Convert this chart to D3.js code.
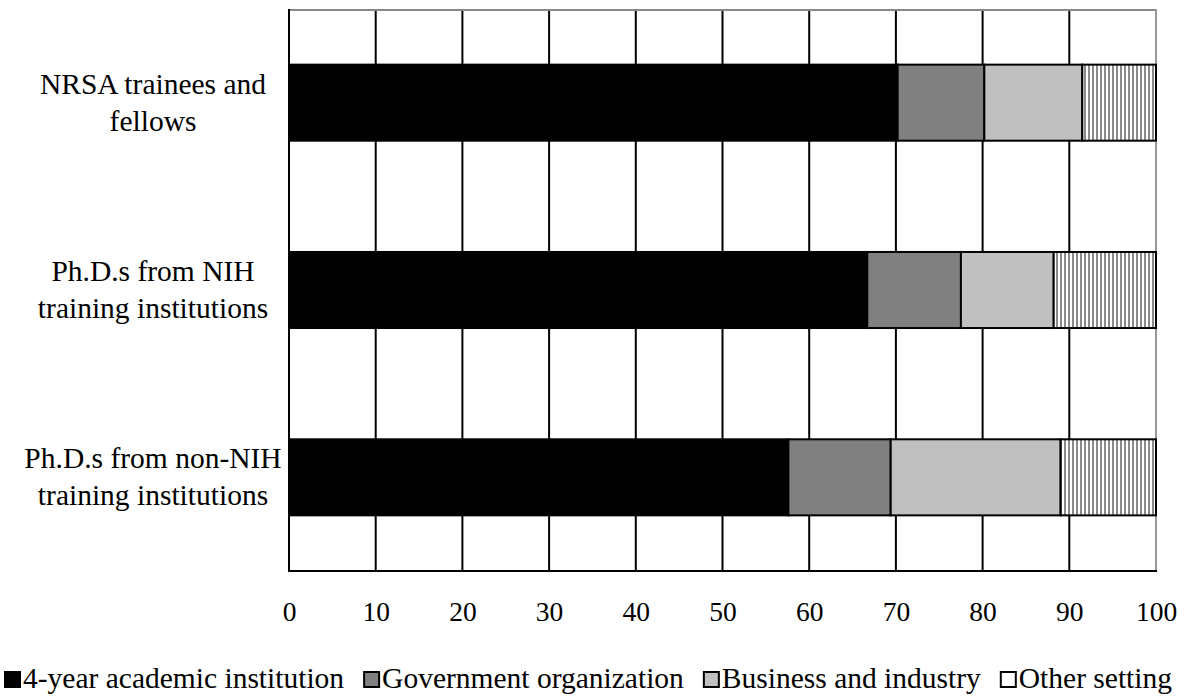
<!DOCTYPE html>
<html><head><meta charset="utf-8">
<script src="https://cdn.jsdelivr.net/npm/d3@7"></script>
<style>body{margin:0;background:#fff}svg{display:block}text{font-family:"Liberation Serif","Times New Roman",serif;fill:#000}</style>
</head><body>
<svg id="c" width="1191" height="698"></svg>
<script>
const categories = ["NRSA trainees and fellows", "Ph.D.s from NIH training institutions", "Ph.D.s from non-NIH training institutions"];
const categoryLines = [["NRSA trainees and", "fellows"], ["Ph.D.s from NIH", "training institutions"], ["Ph.D.s from non-NIH", "training institutions"]];
const seriesNames = ["4-year academic institution", "Government organization", "Business and industry", "Other setting"];
const academic = [70.2, 66.7, 57.6];
const government = [10.0, 10.8, 11.8];
const business = [11.3, 10.7, 19.6];
const other = [8.5, 11.8, 11.0];
const xTicks = [0, 10, 20, 30, 40, 50, 60, 70, 80, 90, 100];

const fills = ["#000000", "#808080", "#c0c0c0", "url(#hatch)"];
const legendFills = ["#000000", "#808080", "#c0c0c0", "#ffffff"];

const svg = d3.select("#c");
const defs = svg.append("defs");
const pat = defs.append("pattern").attr("id", "hatch").attr("patternUnits", "userSpaceOnUse")
  .attr("width", 4).attr("height", 10);
pat.append("rect").attr("width", 4).attr("height", 10).attr("fill", "#fff");
pat.append("rect").attr("x", 0).attr("width", 2).attr("height", 10).attr("fill", "#8a8a8a");

const pL = 289, pR = 1156, pT = 9, pB = 571;
const x = d3.scaleLinear().domain([0, 100]).range([pL, pR]);
const y = d3.scaleBand().domain(categories).range([pT, pB]).paddingInner(0.594).paddingOuter(0.297);

const rows = categories.map((c, i) => ({cat: c, vals: [academic[i], government[i], business[i], other[i]]}));
const stack = d3.stack().keys([0, 1, 2, 3]).value((d, k) => d.vals[k]);
const layers = stack(rows);

// gridlines
svg.append("g").selectAll("line").data(xTicks.filter(t => t > 0 && t < 100)).join("line")
  .attr("x1", d => x(d)).attr("x2", d => x(d)).attr("y1", pT).attr("y2", pB)
  .attr("stroke", "#000").attr("stroke-width", 2);
// top & right frame (gray)
svg.append("line").attr("x1", pL).attr("x2", pR).attr("y1", pT + 1).attr("y2", pT + 1).attr("stroke", "#888").attr("stroke-width", 2);
svg.append("line").attr("x1", pR).attr("x2", pR).attr("y1", pT).attr("y2", pB).attr("stroke", "#999").attr("stroke-width", 2);

// bars
layers.forEach((layer, k) => {
  svg.append("g").selectAll("rect").data(layer).join("rect")
    .attr("x", d => x(d[0])).attr("width", d => x(d[1]) - x(d[0]))
    .attr("y", d => y(d.data.cat)).attr("height", y.bandwidth())
    .attr("fill", fills[k]).attr("stroke", "#000").attr("stroke-width", 2);
});

// axes lines
svg.append("line").attr("x1", pL).attr("x2", pL).attr("y1", pT).attr("y2", pB + 1).attr("stroke", "#000").attr("stroke-width", 2);
svg.append("line").attr("x1", pL - 1).attr("x2", pR + 1).attr("y1", pB).attr("y2", pB).attr("stroke", "#000").attr("stroke-width", 2);

// x tick labels via axis
const xAxis = d3.axisBottom(x).tickValues(xTicks).tickSize(0).tickPadding(0).tickFormat(d3.format("d"));
const gx = svg.append("g").attr("transform", `translate(0,${621})`).call(xAxis);
gx.select(".domain").remove();
gx.selectAll("text").attr("dy", null).attr("y", 0).style("font-size", "27.5px")
  .style("font-family", '"Liberation Serif","Times New Roman",serif').attr("fill", "#000");

// category labels
categories.forEach((c, i) => {
  const cy = y(c) + y.bandwidth() / 2;
  const t = svg.append("text").attr("text-anchor", "middle").style("font-size", "29.5px");
  t.append("tspan").attr("x", 153).attr("y", cy - 9).text(categoryLines[i][0]);
  t.append("tspan").attr("x", 153).attr("y", cy + 28).text(categoryLines[i][1]);
});

// legend
let lx = 4;
const lg = svg.append("g");
seriesNames.forEach((n, k) => {
  lg.append("rect").attr("x", lx + 1).attr("y", 672).attr("width", 15).attr("height", 15)
    .attr("fill", legendFills[k]).attr("stroke", "#000").attr("stroke-width", 2);
  const t = lg.append("text").attr("x", lx + 19).attr("y", 688).style("font-size", "29.5px").text(n);
  lx += 19 + t.node().getComputedTextLength() + 19;
});
</script>
</body></html>
